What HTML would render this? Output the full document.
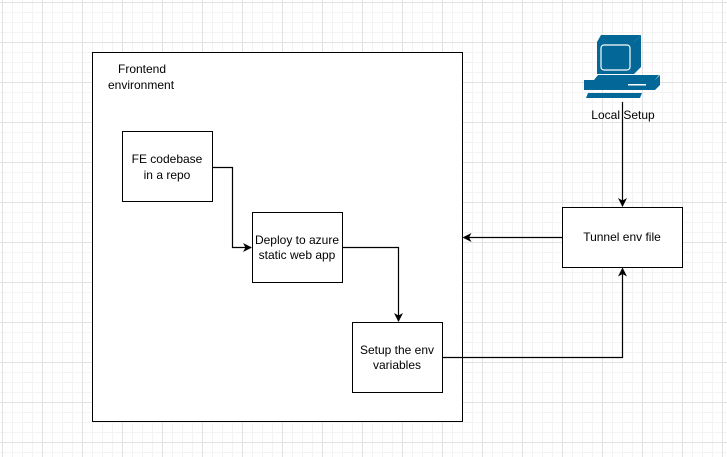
<!DOCTYPE html>
<html><head><style>
html,body{margin:0;padding:0;}
body{width:727px;height:457px;overflow:hidden;background:#fff;
background-image:
linear-gradient(to right,#e2e2e2 1px,transparent 1px),
linear-gradient(to bottom,#e2e2e2 1px,transparent 1px),
linear-gradient(to right,#f3f3f3 1px,transparent 1px),
linear-gradient(to bottom,#f3f3f3 1px,transparent 1px);
background-size:40px 40px,40px 40px,10px 10px,10px 10px;
background-position:2px 2px,2px 2px,2px 2px,2px 2px;}
svg text{font-family:"Liberation Sans",Arial,sans-serif;font-size:12px;fill:#000;}
</style></head><body>
<svg width="727" height="457" style="position:absolute;left:0;top:0">
<defs><marker id="a" markerWidth="10" markerHeight="10" refX="8" refY="5" orient="auto" markerUnits="userSpaceOnUse">
<path d="M0,0.5 L9,5 L0,9.5 L2.5,5 Z" fill="#000"/></marker></defs>
<rect x="92.5" y="52.5" width="370" height="369" fill="#fff" stroke="#000"/>
<text x="118" y="73">Frontend</text>
<text x="108" y="89">environment</text>
<rect x="122.5" y="131.5" width="90" height="70" fill="#fff" stroke="#000"/>
<text x="167" y="163" text-anchor="middle">FE codebase</text>
<text x="167" y="179" text-anchor="middle">in a repo</text>
<rect x="252.5" y="212.5" width="90" height="70" fill="#fff" stroke="#000"/>
<text x="297" y="244" text-anchor="middle">Deploy to azure</text>
<text x="297" y="259" text-anchor="middle">static web app</text>
<rect x="352.5" y="322.5" width="90" height="70" fill="#fff" stroke="#000"/>
<text x="397" y="354" text-anchor="middle">Setup the env</text>
<text x="397" y="369" text-anchor="middle">variables</text>
<rect x="562.5" y="207.5" width="120" height="60" fill="#fff" stroke="#000"/>
<text x="622" y="241" text-anchor="middle">Tunnel env file</text>
<g fill="none" stroke="#000" stroke-width="1.2">
<path d="M212.5,167.5 H232.5 V247.5 H251" marker-end="url(#a)"/>
<path d="M342.5,247.5 H398.5 V321" marker-end="url(#a)"/>
<path d="M442.5,357.5 H622.5 V268.5" marker-end="url(#a)"/>
<path d="M562.5,237.5 H463.5" marker-end="url(#a)"/>
<path d="M622.5,102 V206" marker-end="url(#a)"/>
</g>
<g fill="#036897">
<path d="M601,35 L641,35 L634,42 L597,42 Z"/>
<path d="M597,42 L634,42 L634,74 L597,74 Z"/>
<path d="M634,42 L641,35 L641,67 L634,74 Z"/>
<path d="M594,80 L655,80 L659,75 L598,75 Z"/>
<path d="M584,80 L655,80 L655,90 L584,90 Z"/>
<path d="M655,80 L660,75 L660,85 L655,90 Z"/>
<path d="M588,93 L642,93 L640,98 L586,98 Z"/>
</g>
<rect x="601" y="45" width="29" height="25" rx="3" fill="none" stroke="#fff" stroke-width="1.2"/>
<rect x="628" y="84" width="18" height="1.5" fill="#fff"/>
<text x="623" y="119" text-anchor="middle">Local Setup</text>
</svg>
</body></html>
